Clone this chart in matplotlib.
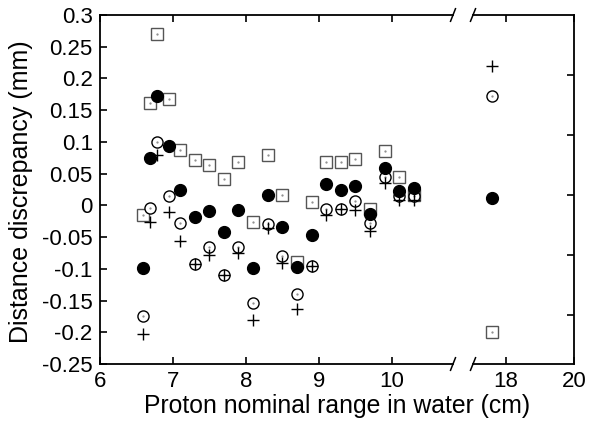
import matplotlib.pyplot as plt
import numpy as np

plt.rcParams['font.family'] = ['Liberation Sans', 'DejaVu Sans']

# nominal ranges (cm), left part of the broken axis
ranges = [6.6, 6.69, 6.79, 6.95, 7.1, 7.3, 7.5, 7.7, 7.9, 8.1,
          8.3, 8.5, 8.7, 8.9, 9.1, 9.3, 9.5, 9.7, 9.9, 10.1, 10.3]
sq = [-0.015, 0.162, 0.270, 0.168, 0.088, 0.072, 0.063, 0.042, 0.068, -0.026,
      0.079, 0.016, -0.090, 0.006, 0.068, 0.068, 0.073, -0.006, 0.086, 0.045, 0.016]
filled = [-0.098, 0.074, 0.173, 0.094, 0.025, -0.019, -0.009, -0.042, -0.007, -0.099,
          0.017, -0.034, -0.097, -0.046, 0.034, 0.024, 0.031, -0.013, 0.059, 0.023, 0.027]
opn = [-0.174, -0.004, 0.100, 0.014, -0.027, -0.093, -0.065, -0.110, -0.065, -0.154,
       -0.030, -0.080, -0.139, -0.095, -0.006, -0.006, 0.007, -0.027, 0.044, 0.014, 0.014]
plus = [-0.203, -0.026, 0.080, -0.010, -0.056, -0.093, -0.078, -0.110, -0.075, -0.180,
        -0.035, -0.091, -0.163, -0.095, -0.015, -0.006, -0.007, -0.041, 0.035, 0.009, 0.009]

# the single long range, right part of the axis
range_hi = [17.6]
sq_hi = [-0.199]
filled_hi = [0.012]
opn_hi = [0.172]
plus_hi = [0.220]

fig = plt.figure(figsize=(5.9, 4.25), dpi=100)
ax1 = fig.add_axes([0.1688, 0.1435, 0.599, 0.8212])
ax2 = fig.add_axes([0.8017, 0.1435, 0.1712, 0.8212])


def draw(ax, x, s, f, o, p):
    ax.plot(x, s, 's', ms=8, mfc='white', mec='#555555', mew=1.0, zorder=2)
    ax.plot(x, s, '.', ms=1.2, color='#888888', zorder=2)
    ax.plot(x, o, 'o', ms=8, mfc='white', mec='black', mew=1.0, zorder=3)
    ax.plot(x, o, '.', ms=1.2, color='#888888', zorder=3)
    ax.plot(x, p, '+', ms=9, color='black', mew=1.0, zorder=4)
    ax.plot(x, f, 'o', ms=8.5, color='black', zorder=5)


draw(ax1, ranges, sq, filled, opn, plus)
draw(ax2, range_hi, sq_hi, filled_hi, opn_hi, plus_hi)

for ax in (ax1, ax2):
    ax.set_ylim(-0.25, 0.3)
    for sp in ax.spines.values():
        sp.set_linewidth(1.3)
    ax.tick_params(direction='in', length=5, width=1.2, labelsize=16, top=True, pad=5)

ax1.set_xlim(6, 10.834)
ax1.set_xticks([6, 7, 8, 9, 10])
ax1.set_yticks(np.arange(-0.25, 0.301, 0.05))
ax1.set_yticklabels(['-0.25', '-0.2', '-0.15', '-0.1', '-0.05', '0',
                     '0.05', '0.1', '0.15', '0.2', '0.25', '0.3'])
ax1.spines['right'].set_visible(False)
ax1.tick_params(right=False)

ax2.set_xlim(17.047, 20)
ax2.set_xticks([18, 20])
ax2.set_yticks(0.3 - 0.0946 * np.arange(1, 6))
ax2.spines['left'].set_visible(False)
ax2.tick_params(left=False, labelleft=False, right=True, labelright=False)

fig.text(0.036, 0.55, 'Distance discrepancy (mm)', fontsize=18, rotation=90,
         ha='center', va='center')
fig.text(0.572, 0.044, 'Proton nominal range in water (cm)', fontsize=17.8,
         ha='center', va='center')

# break marks
d = 0.018
for yb in (0, 1):
    ax1.plot([1 - 0.007, 1 + 0.007], [yb - d, yb + d], color='black', lw=1.1,
             transform=ax1.transAxes, clip_on=False)
    ax2.plot([-0.025, 0.025], [yb - d, yb + d], color='black', lw=1.1,
             transform=ax2.transAxes, clip_on=False)

fig.savefig('out.png', dpi=100)
